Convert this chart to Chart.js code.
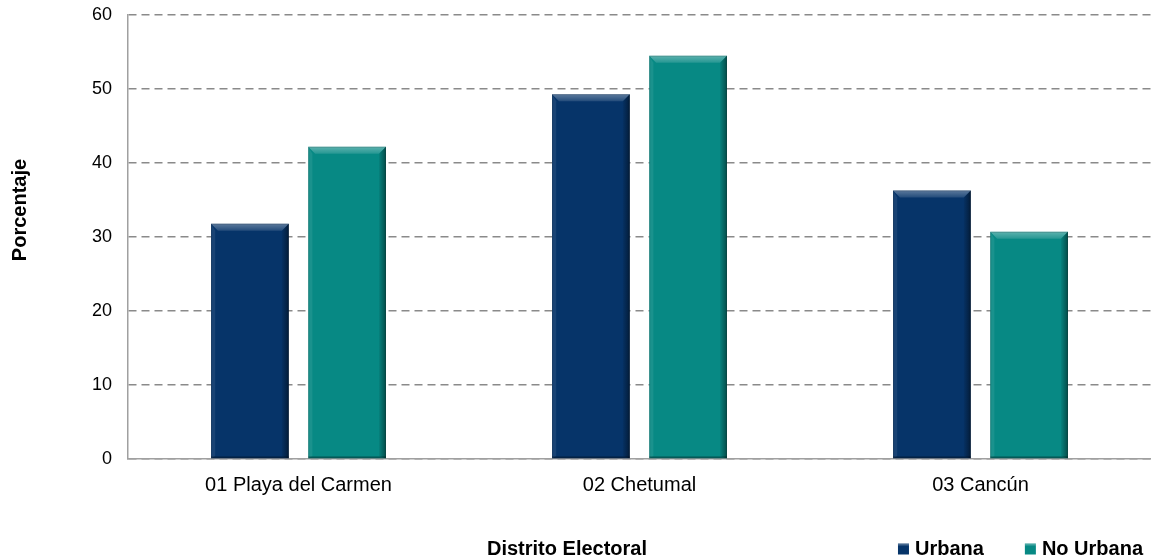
<!DOCTYPE html>
<html><head><meta charset="utf-8">
<script src="https://cdn.jsdelivr.net/npm/chart.js@4"></script>
<style>html,body{margin:0;padding:0;background:#fff}#wrap{width:1151px;height:560px}</style>
</head><body><div id="wrap"><canvas id="c"></canvas></div>
<script>
const categories = ["01 Playa del Carmen", "02 Chetumal", "03 Cancún"];
const urbana = [31.8, 49.3, 36.3];
const noUrbana = [42.2, 54.5, 30.7];
const seriesNames = ["Urbana", "No Urbana"];
const seriesColors = ["#063469", "#078984"];
const yTicks = [0, 10, 20, 30, 40, 50, 60];
const xAxisTitle = "Distrito Electoral";
const yAxisTitle = "Porcentaje";

const FONT = "'Liberation Sans', Arial, sans-serif";

const bevel = {
  id: 'bevel',
  afterDatasetsDraw(chart) {
    const ctx = chart.ctx;
    chart.data.datasets.forEach((ds, di) => {
      const meta = chart.getDatasetMeta(di);
      meta.data.forEach(el => {
        const w = el.width, l = el.x - w/2, r = el.x + w/2, t = el.y, b = el.base;
        const d = 7;
        ctx.save();
        let g = ctx.createLinearGradient(0, t, 0, t + d);
        g.addColorStop(0, 'rgba(255,255,255,0.35)');
        g.addColorStop(1, 'rgba(255,255,255,0.12)');
        ctx.fillStyle = g;
        ctx.beginPath(); ctx.moveTo(l,t); ctx.lineTo(r,t); ctx.lineTo(r-d,t+d); ctx.lineTo(l+d,t+d); ctx.closePath(); ctx.fill();
        ctx.fillStyle = 'rgba(255,255,255,0.08)';
        ctx.beginPath(); ctx.moveTo(l,t); ctx.lineTo(l+d*0.6,t+d); ctx.lineTo(l+d*0.6,b-2); ctx.lineTo(l,b); ctx.closePath(); ctx.fill();
        g = ctx.createLinearGradient(r - d, 0, r, 0);
        g.addColorStop(0, 'rgba(0,0,0,0.05)');
        g.addColorStop(1, 'rgba(0,0,0,0.45)');
        ctx.fillStyle = g;
        ctx.beginPath(); ctx.moveTo(r,t); ctx.lineTo(r-d,t+d); ctx.lineTo(r-d,b-2); ctx.lineTo(r,b); ctx.closePath(); ctx.fill();
        ctx.fillStyle = 'rgba(0,0,0,0.25)';
        ctx.fillRect(l, b-2, w, 2);
        ctx.strokeStyle = 'rgba(0,0,0,0.15)'; ctx.lineWidth = 1;
        ctx.strokeRect(l+0.5, t+0.5, w-1, b-t-1);
        ctx.restore();
      });
    });
  }
};

const titlesAndLegend = {
  id: 'titlesAndLegend',
  afterDraw(chart) {
    const ctx = chart.ctx;
    ctx.save();
    ctx.font = "bold 20px " + FONT;
    ctx.fillStyle = '#000';
    ctx.textBaseline = 'middle';
    ctx.textAlign = 'center';
    ctx.fillText(xAxisTitle, 567, 549);
    // legend, right-aligned, from the chart's datasets
    ctx.textAlign = 'left';
    const box = 11, gapText = 6, gapItem = 41, rightEdge = 1143, cy = 549;
    const items = chart.data.datasets.map(ds => ({ text: ds.label, color: ds.backgroundColor, w: ctx.measureText(ds.label).width }));
    let total = items.reduce((s, it) => s + box + gapText + it.w, 0) + gapItem * (items.length - 1);
    let x = rightEdge - total;
    items.forEach(it => {
      ctx.fillStyle = it.color;
      ctx.fillRect(x, cy - box/2, box, box);
      ctx.fillStyle = 'rgba(255,255,255,0.25)';
      ctx.fillRect(x, cy - box/2, box, 2);
      ctx.fillStyle = '#000';
      ctx.fillText(it.text, x + box + gapText, cy);
      x += box + gapText + it.w + gapItem;
    });
    // y title
    ctx.textAlign = 'center';
    ctx.translate(20, 210);
    ctx.rotate(-Math.PI / 2);
    ctx.fillText(yAxisTitle, 0, 0);
    ctx.restore();
  }
};

new Chart(document.getElementById('c'), {
  type: 'bar',
  data: {
    labels: categories,
    datasets: [
      { label: seriesNames[0], data: urbana, backgroundColor: seriesColors[0], borderWidth: 0 },
      { label: seriesNames[1], data: noUrbana, backgroundColor: seriesColors[1], borderWidth: 0 }
    ]
  },
  options: {
    responsive: true,
    maintainAspectRatio: false,
    animation: false,
    datasets: { bar: { categoryPercentage: 0.57, barPercentage: 0.8 } },
    layout: { padding: { top: 15, right: 0, left: 0, bottom: 0 } },
    plugins: {
      tooltip: { enabled: false },
      legend: { display: false }
    },
    scales: {
      x: {
        grid: { display: true, drawOnChartArea: false, drawTicks: false },
        border: { display: true, color: '#a0a0a0', width: 1.5 },
        ticks: { color: '#000', font: { family: FONT, size: 20 }, padding: 14 },
        afterFit(s) { s.height = 101; }
      },
      y: {
        min: 0, max: 60,
        afterBuildTicks(s) { s.ticks = yTicks.map(v => ({ value: v })); },
        grid: { color: '#8a8a8a', lineWidth: 1.5, drawTicks: false },
        border: { display: true, color: '#a0a0a0', width: 1.5, dash: [8, 5] },
        ticks: { color: '#000', font: { family: FONT, size: 18 }, padding: 16 },
        title: { display: false },
        afterFit(s) { s.width = 128; s.paddingTop = 0; s.paddingBottom = 0; }
      }
    }
  },
  plugins: [bevel, titlesAndLegend]
});
</script></body></html>
